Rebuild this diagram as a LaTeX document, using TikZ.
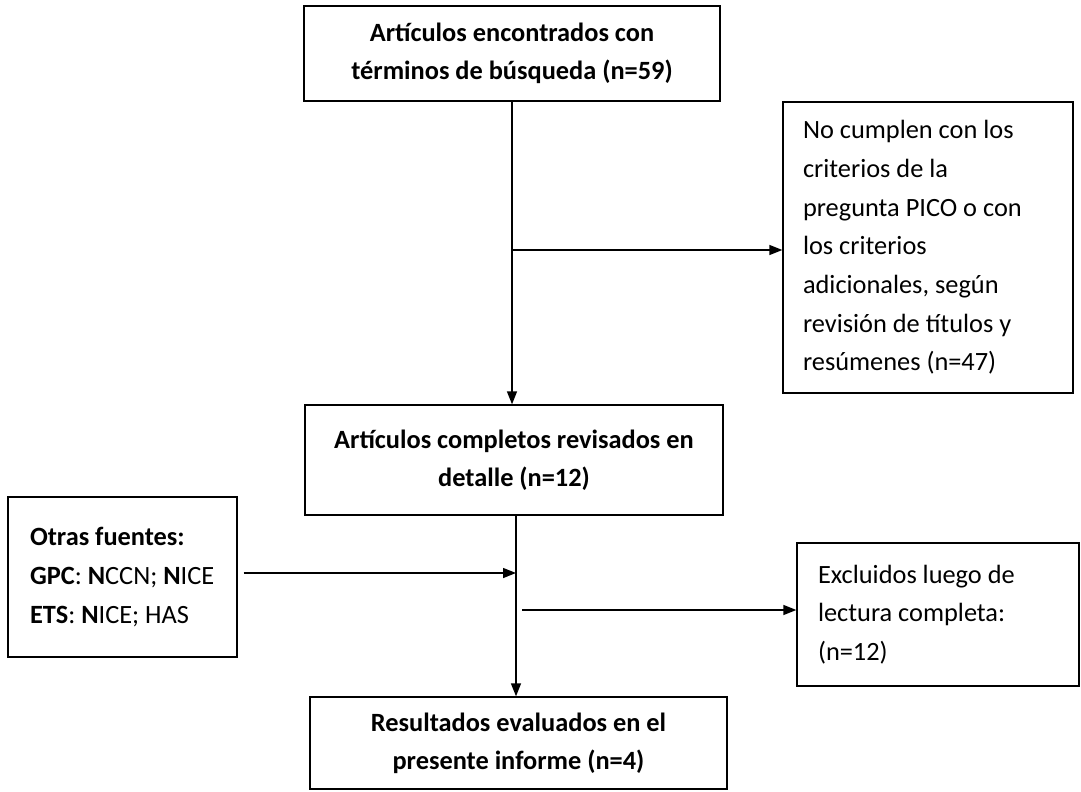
\documentclass[tikz,border=0pt]{standalone}
\usepackage{fontspec}
\setmainfont{Carlito}
\usetikzlibrary{arrows.meta}
\begin{document}
\begin{tikzpicture}[x=0.02cm, y=-0.02cm, >={Triangle[length=0.26cm,width=0.2cm]},
  box/.style={draw, line width=0.8pt, font=\fontsize{15}{21.5}\selectfont, align=center, inner sep=0pt},
  sidebox/.style={box, font=\fontsize{15}{22}\selectfont, align=flush left, inner xsep=0.4cm},
  link/.style={->, line width=0.8pt}]
  \useasboundingbox (0,0) rectangle (1081,791);

  % Cajas principales
  \node[box, minimum width=8.32cm, minimum height=1.9cm] (busqueda) at (512,53.5)
    {\textbf{Artículos encontrados con}\\ \textbf{términos de búsqueda (n=59)}};
  \node[box, minimum width=8.36cm, minimum height=2.2cm] (revisados) at (514,460)
    {\textbf{Artículos completos revisados en}\\ \textbf{detalle (n=12)}};
  \node[box, minimum width=8.34cm, minimum height=1.84cm] (resultados) at (518.5,743)
    {\textbf{Resultados evaluados en el}\\ \textbf{presente informe (n=4)}};

  % Cajas laterales
  \node[sidebox, text width=5cm, minimum height=5.82cm] (noPico) at (928,247.5)
    {No cumplen con los\\ criterios de la\\ pregunta PICO o con\\ los criterios\\ adicionales, según\\ revisión de títulos y\\ resúmenes (n=47)};
  \node[sidebox, text width=3.7cm, inner xsep=0.44cm, minimum height=3.2cm] (otras) at (122.5,577)
    {\textbf{Otras fuentes:}\\ \textbf{GPC}: \textbf{N}CCN; \textbf{N}ICE\\ \textbf{ETS}: \textbf{N}ICE; HAS\\[0.6cm]};
  \node[sidebox, text width=4.8cm, inner xsep=0.42cm, minimum height=2.86cm] (excluidos) at (938,614.5)
    {Excluidos luego de\\ lectura completa:\\ (n=12)};

  % Uniones
  \coordinate (j1) at (512,250);
  \coordinate (j2) at (516,573);
  \coordinate (j3) at (522,610);

  % Flechas
  \draw[link] (busqueda.south) -- (busqueda.south |- revisados.north);
  \draw[link] (j1) -- (j1 -| noPico.west);
  \draw[line width=0.8pt] (j2 |- revisados.south) -- (j2);
  \draw[link] (j2) -- (j2 |- resultados.north);
  \draw[link] ([xshift=0.12cm]otras.east |- j2) -- (j2);
  \draw[link] (j3) -- (j3 -| excluidos.west);

\end{tikzpicture}
\end{document}
